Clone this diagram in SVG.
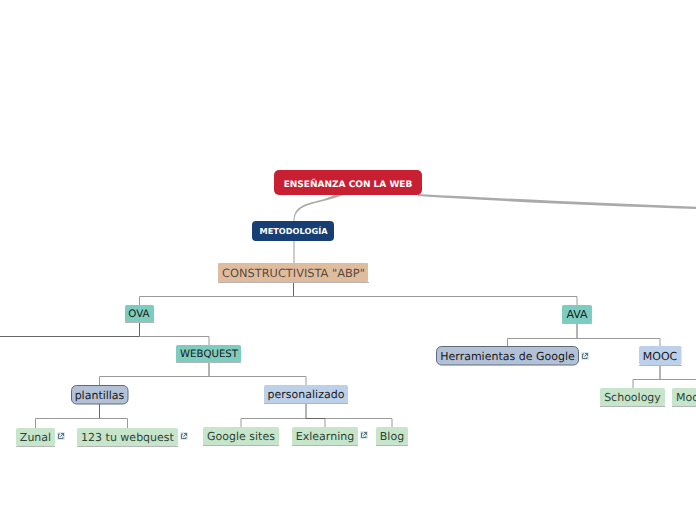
<svg xmlns="http://www.w3.org/2000/svg" width="696" height="520" viewBox="0 0 696 520">
<style>
text{font-family:"DejaVu Sans",Verdana,sans-serif;font-size:11px;text-anchor:middle;fill:#1a1a1a;text-rendering:geometricPrecision}
.b{font-weight:bold;fill:#fff}
.c{fill:none;stroke:#9a9a9a;stroke-width:1}
.d{fill:none;stroke:#666;stroke-width:1}
.main{fill:#aaa;stroke:none}
.teal{fill:#7ccdbf;stroke:#7ccdbf}
.blue{fill:#bdd0ea;stroke:#bdd0ea}
.green{fill:#c6e5cb;stroke:#c6e5cb}
.grey{fill:#b3c1d6;stroke:#5f6b7c}
.sh{stroke:#b5b5b5;stroke-width:1;fill:none}
.ext{fill:#dce8ee}
.exts{fill:none;stroke:#3f5a60;stroke-width:.8}
</style>
<defs>
<g id="ext"><rect class="ext" x="0" y="0" width="8" height="8" rx="1"/><path class="exts" d="M3 2H1.500V6.500H6V5M4 1.500H6.500V4M6.500 1.500L3.500 4.500"/></g>
</defs>
<g id="connectors">
<path class="main" d="M334 195H343C322 204 294.500 202 294.500 221H293.500C293.500 200 318 204 334 195Z"/>
<path class="main" d="M418 194C500 198.500 600 203 696 206.800V209C600 205.800 500 201.500 418 196Z"/>
<path class="c" d="M294 241V263"/>
<path class="c" d="M139.500 305V296.500H577V305"/>
<path class="d" d="M293.500 282V296"/>
<path class="d" d="M139.500 322V336.500H0"/>
<path class="c" d="M139.500 336.500H209V345"/>
<path class="c" d="M99.500 385V376.500H306V385"/>
<path class="d" d="M209 362V376"/>
<path class="c" d="M35.500 428V418.500H127.500V428"/>
<path class="d" d="M99.500 404V418"/>
<path class="c" d="M241 427V418.500H392V427"/>
<path class="c" d="M325 427V418.500"/>
<path class="d" d="M306 403V418.500H325"/>
<path class="c" d="M507.500 346V338.500H660V346"/>
<path class="d" d="M577 323V338"/>
<path class="c" d="M633 388V379.500H696"/>
<path class="d" d="M660 365V379"/>
</g>
<g id="n-root"><rect x="274" y="170" width="148" height="25" rx="5" fill="#c91f33"/><text class="b" x="348" y="186.500" style="font-size:9px">ENSEÑANZA CON LA WEB</text></g>
<g id="n-metodologia"><rect x="252" y="221" width="82" height="20" rx="4" fill="#183f73"/><text class="b" x="293.500" y="234" style="font-size:8.200px">METODOLOGÍA</text></g>
<g id="n-constructivista"><rect x="218" y="263" width="150" height="19" fill="#e0bc9e" rx="1"/><path class="sh" d="M218 282.500H369"/><text x="293.500" y="277" style="fill:#5a4a3c;font-size:11.400px">CONSTRUCTIVISTA "ABP"</text></g>
<g id="n-ova"><rect class="teal" x="125.500" y="305.500" width="28" height="16.500" rx="1"/><path class="sh" d="M125 322.500H154"/><text x="139" y="317" style="font-size:10.300px">OVA</text></g>
<g id="n-webquest"><rect class="teal" x="176.500" y="345.500" width="64" height="16.500" rx="1"/><path class="sh" d="M176 362.500H241"/><text x="209" y="357" style="font-size:10.200px">WEBQUEST</text></g>
<g id="n-plantillas"><rect class="grey" x="71.500" y="385.500" width="56.500" height="18.500" rx="5"/><text x="99.500" y="399">plantillas</text></g>
<g id="n-zunal"><rect class="green" x="16.500" y="428.500" width="38" height="17" rx="1"/><path class="sh" d="M16 446.500H55"/><text x="35.500" y="441" style="fill:#2f4436">Zunal</text><use href="#ext" x="57" y="432"/></g>
<g id="n-123"><rect class="green" x="77.500" y="428.500" width="100" height="17" rx="1"/><path class="sh" d="M77 446.500H178"/><text x="127.500" y="441" style="fill:#2f4436">123 tu webquest</text><use href="#ext" x="180" y="432"/></g>
<g id="n-personalizado"><rect class="blue" x="264.500" y="385.500" width="83" height="17.500" rx="1"/><path class="sh" d="M264 403.500H348"/><text x="306" y="398">personalizado</text></g>
<g id="n-google"><rect class="green" x="203.500" y="427.500" width="75" height="17.500" rx="1"/><path class="sh" d="M203 445.500H279"/><text x="241" y="440" style="fill:#2f4436">Google sites</text></g>
<g id="n-exlearning"><rect class="green" x="292.500" y="427.500" width="65" height="17.500" rx="1"/><path class="sh" d="M292 445.500H358"/><text x="325" y="440" style="fill:#2f4436">Exlearning</text><use href="#ext" x="360" y="431"/></g>
<g id="n-blog"><rect class="green" x="376.500" y="427.500" width="31" height="17.500" rx="1"/><path class="sh" d="M376 445.500H408"/><text x="392" y="440" style="fill:#2f4436">Blog</text></g>
<g id="n-ava"><rect class="teal" x="562.500" y="305.500" width="29" height="17.500" rx="1"/><path class="sh" d="M562 323.500H592"/><text x="577" y="318">AVA</text></g>
<g id="n-herramientas"><rect class="grey" x="436.500" y="346.500" width="142" height="18.500" rx="5"/><text x="507.500" y="360">Herramientas de Google</text><use href="#ext" x="581" y="352"/></g>
<g id="n-mooc"><rect class="blue" x="639.500" y="346.500" width="41.500" height="18" rx="1"/><path class="sh" d="M639 365.500H682"/><text x="660" y="360">MOOC</text></g>
<g id="n-schoology"><rect class="green" x="600.500" y="388.500" width="64" height="17.500" rx="1"/><path class="sh" d="M600 406.500H665"/><text x="632.500" y="401" style="fill:#2f4436">Schoology</text></g>
<g id="n-moodle"><rect class="green" x="672.500" y="388.500" width="50" height="17.500" rx="1"/><path class="sh" d="M672 406.500H696"/><text x="676" y="401" style="fill:#2f4436;text-anchor:start">Moodle</text></g>
</svg>
